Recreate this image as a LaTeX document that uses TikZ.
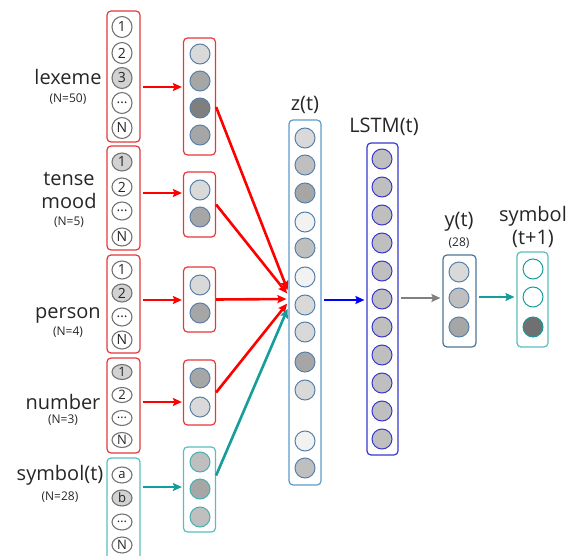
\documentclass[tikz,border=0pt]{standalone}
\usepackage{fontspec}
\setmainfont{Open Sans}
\usetikzlibrary{shapes.geometric, arrows.meta}
\definecolor{boxred}{HTML}{E5383B}
\definecolor{arrred}{HTML}{FF0000}
\definecolor{boxteal}{HTML}{5CBDBD}
\definecolor{arrteal}{HTML}{179C9C}
\definecolor{zblue}{HTML}{5A9BC9}
\definecolor{cedge}{HTML}{5A80A8}
\definecolor{lstmblue}{HTML}{3838CC}
\definecolor{ybox}{HTML}{4D7496}
\definecolor{txt}{HTML}{262626}
\definecolor{c0}{HTML}{F2F2F2}
\definecolor{c1}{HTML}{D9D9D9}
\definecolor{c2}{HTML}{BFBFBF}
\definecolor{c3}{HTML}{A6A6A6}
\definecolor{c4}{HTML}{7F7F7F}
\definecolor{ohsel}{HTML}{D2D2D2}
\tikzset{
    >={Stealth[length=9pt, width=8pt, inset=1.5pt]}, % bold arrow heads
    col/.style={draw, rounded corners=4pt, line width=1.2pt, minimum width=32pt, inner sep=0pt}, % a column box
    ohbox/.style={col, draw=boxred, minimum width=33pt}, % one-hot input box
    oh/.style={ellipse, draw=black!55, line width=1.1pt, inner sep=0pt, minimum width=20pt, text=txt, font=\fontsize{14}{14}\selectfont}, % one-hot unit
    emb/.style={circle, draw=cedge, line width=1pt, minimum size=20pt, inner sep=0pt}, % embedding unit
    lab/.style={inner sep=0pt, text=txt, font=\fontsize{20}{23}\selectfont, align=center}, % big label
    small/.style={inner sep=0pt, text=txt, font=\fontsize{12}{12}\selectfont}, % size label
    arr/.style={->, line width=2.6pt}, % connector
}

\begin{document}
\begin{tikzpicture}[x=1pt, y=-1pt]
\useasboundingbox (0,0) rectangle (567,556);

% labels on the left
\node[lab] (lexL) at (68,77) {lexeme};
\node[small] (lexN) at (68,99) {(N=50)};
\node[lab] (tnsL) at (69,191) {tense\\mood};
\node[small] (tnsN) at (69,222) {(N=5)};
\node[lab] (perL) at (68,315) {person};
\node[small] (perN) at (68,332) {(N=4)};
\node[lab] (numL) at (63,402) {number};
\node[small] (numN) at (63,420) {(N=3)};
\node[lab] (symL) at (60,475) {symbol(t)};
\node[small] (symN) at (60,497) {(N=28)};

% one-hot inputs
\node[ohbox, minimum height=131pt] (lexOH) at (123.5,76.5) {};
\node[ohbox, minimum height=104pt] (tnsOH) at (123.5,198) {};
\node[ohbox, minimum height=98pt] (perOH) at (123.5,304) {};
\node[ohbox, minimum height=95pt] (numOH) at (123.5,405.5) {};
\node[ohbox, draw=boxteal, minimum height=120pt] (symOH) at (123.5,518) {};
\foreach \t/\y/\f [count=\i] in {1/27/white, 2/53/white, 3/78/ohsel, \dots/103/white, N/128/white}
  \node[oh, minimum height=21pt, fill=\f] (lex\i) at (122,\y) {\t};
\foreach \t/\y/\f [count=\i] in {1/162/ohsel, 2/187/white, \dots/211/white, N/237/white}
  \node[oh, minimum height=18pt, fill=\f] (tns\i) at (122,\y) {\t};
\foreach \t/\y/\f [count=\i] in {1/270/white, 2/293/ohsel, \dots/317/white, N/340/white}
  \node[oh, minimum height=18pt, fill=\f] (per\i) at (122,\y) {\t};
\foreach \t/\y/\f [count=\i] in {1/372/ohsel, 2/395/white, \dots/418/white, N/440/white}
  \node[oh, minimum height=15pt, fill=\f, font=\fontsize{13}{13}\selectfont] (num\i) at (122,\y) {\t};
\foreach \t/\y/\f [count=\i] in {a/475/white, b/498/ohsel, \dots/522/white, N/545/white}
  \node[oh, minimum height=16pt, fill=\f, font=\fontsize{13}{13}\selectfont] (sym\i) at (122,\y) {\t};

% embeddings
\node[col, draw=boxred, minimum height=117pt] (lexE) at (199.5,96.5) {};
\node[col, draw=boxred, minimum height=65pt] (tnsE) at (199.5,204.5) {};
\node[col, draw=boxred, minimum height=65pt] (perE) at (199.5,299.5) {};
\node[col, draw=boxred, minimum height=65pt] (numE) at (199.5,392.5) {};
\node[col, draw=boxteal, minimum height=85pt] (symE) at (199.5,489.5) {};
\foreach \y/\f [count=\i] in {54/c1, 81/c3, 108/c4, 135/c3}
  \node[emb, fill=\f] (lexe\i) at (200,\y) {};
\foreach \y/\f [count=\i] in {190/c1, 217/c3}
  \node[emb, fill=\f] (tnse\i) at (200,\y) {};
\foreach \y/\f [count=\i] in {285/c1, 313/c3}
  \node[emb, fill=\f] (pere\i) at (200,\y) {};
\foreach \y/\f [count=\i] in {378/c3, 407/c1}
  \node[emb, fill=\f] (nume\i) at (200,\y) {};
\foreach \y/\f [count=\i] in {462/c2, 489/c3, 517/c2}
  \node[emb, draw=arrteal!80, fill=\f] (syme\i) at (200,\y) {};

% z(t), LSTM(t), y(t), symbol(t+1)
\node[col, draw=zblue, minimum height=365pt] (zbox) at (305,302.5) {};
\node[lab] (zL) at (305,105) {z(t)};
\foreach \y/\f [count=\i] in {138/c1, 165/c2, 193/c3, 222/c0, 248/c2, 277/c0, 305/c1, 332/c1, 362/c3, 390/c1, 441/c0, 468/c2}
  \node[emb, fill=\f] (z\i) at (305,\y) {};
\node[col, draw=lstmblue, minimum width=31pt, minimum height=312pt] (lstm) at (382.5,299) {};
\node[lab] (lstmL) at (384,127) {LSTM(t)};
\foreach \i in {0,...,10}
  \node[emb, draw=lstmblue, fill=c2] (h\i) at (382,159+28*\i) {};
\node[col, draw=ybox, minimum width=33pt, minimum height=92pt] (ybox) at (459.5,301) {};
\node[lab] (yL) at (459,222) {y(t)};
\node[small] (yN) at (459,243) {(28)};
\foreach \y/\f [count=\i] in {272/c1, 298/c2, 327/c3}
  \node[emb, fill=\f] (y\i) at (459,\y) {};
\node[col, draw=boxteal, minimum width=31pt, minimum height=95pt] (obox) at (532.5,299.5) {};
\node[lab] (oL) at (533,227) {symbol\\(t+1)};
\foreach \y/\f [count=\i] in {269/white, 297/white, 327/black!56}
  \node[emb, draw=arrteal, fill=\f] (o\i) at (533,\y) {};

% one-hot -> embedding
\draw[arr, arrred, shorten <=2pt, shorten >=1pt] ([yshift=-10.5pt]lexOH.east) -- ([yshift=-10.5pt]lexOH.east -| lexE.west);
\draw[arr, arrred, shorten <=2pt, shorten >=1pt] ([yshift=5pt]tnsOH.east) -- ([yshift=5pt]tnsOH.east -| tnsE.west);
\draw[arr, arrred, shorten <=2pt, shorten >=1pt] ([yshift=4pt]perOH.east) -- ([yshift=4pt]perOH.east -| perE.west);
\draw[arr, arrred, shorten <=2pt, shorten >=1pt] ([yshift=3.5pt]numOH.east) -- ([yshift=3.5pt]numOH.east -| numE.west);
\draw[arr, arrteal, shorten <=2pt, shorten >=1pt] ([yshift=31pt]symOH.east) -- ([yshift=31pt]symOH.east -| symE.west);

% embedding -> z(t)
\draw[arr, arrred, shorten >=2pt] ([yshift=-10.5pt]lexE.east) -- ([yshift=10.5pt]zbox.west);
\draw[arr, arrred, shorten >=2pt] (tnsE.east) -- ([yshift=7.5pt]zbox.west);
\draw[arr, arrred, shorten >=2pt] (perE.east) -- ([yshift=3.5pt]zbox.west);
\draw[arr, arrred, shorten >=2pt] (numE.east) -- ([yshift=0.5pt]zbox.west);
\draw[arr, arrteal, shorten >=2pt] ([yshift=14pt]symE.east) -- ([yshift=-4.5pt]zbox.west);

% z(t) -> LSTM(t) -> y(t) -> symbol(t+1)
\draw[arr, blue, shorten <=2pt, shorten >=2pt] ([yshift=2.5pt]zbox.east) -- ([yshift=2.5pt]zbox.east -| lstm.west);
\draw[arr, gray, line width=2pt, shorten <=2pt, shorten >=2pt] (lstm.east |- y2) -- (y2 -| ybox.west);
\draw[arr, arrteal, shorten <=2pt, shorten >=2pt] (ybox.east |- o2) -- (o2 -| obox.west);
\end{tikzpicture}
\end{document}
